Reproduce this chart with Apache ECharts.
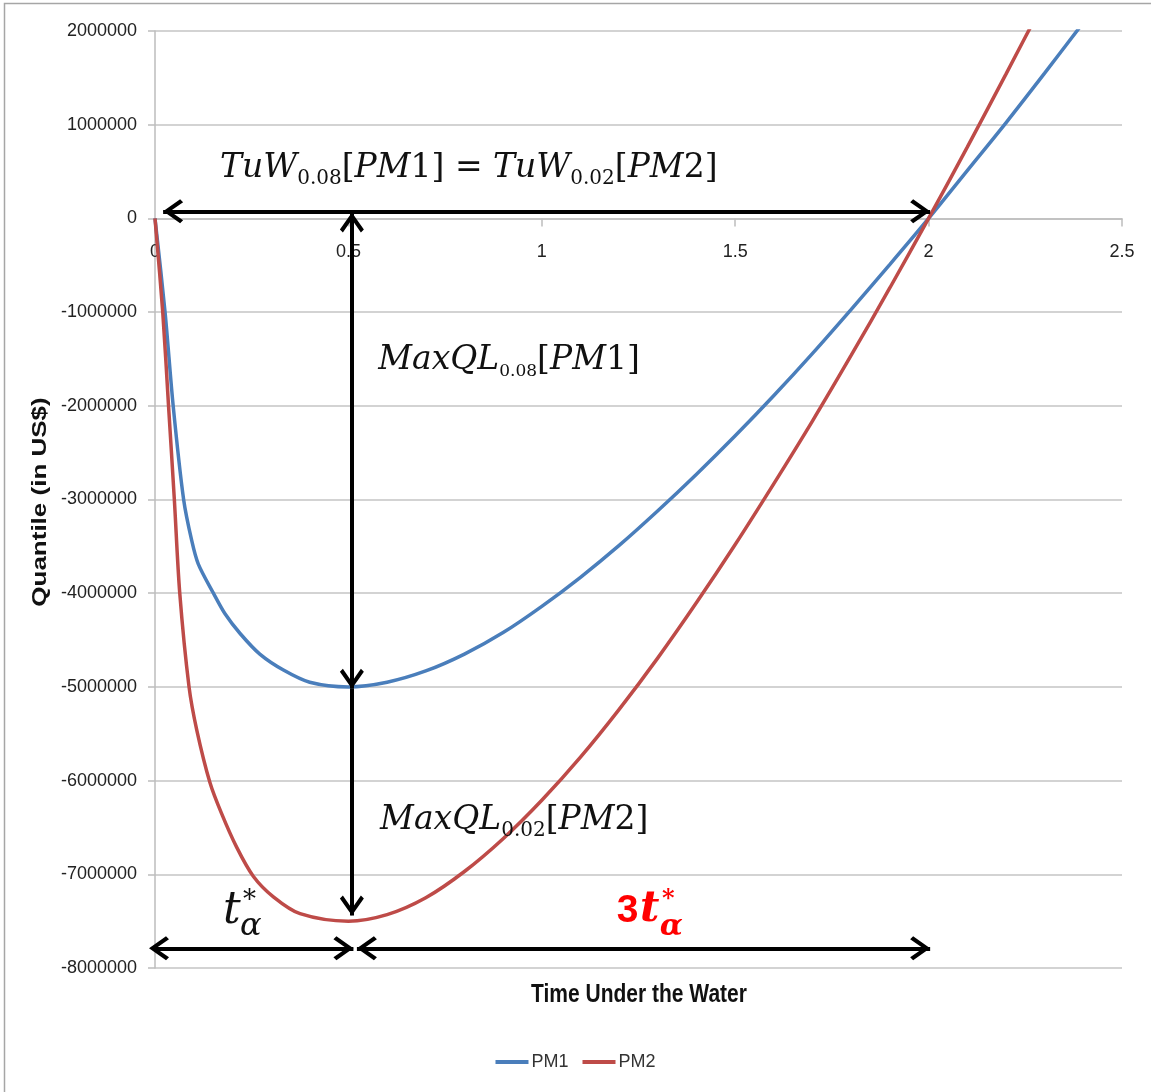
<!DOCTYPE html>
<html>
<head>
<meta charset="utf-8">
<title>Time Under the Water</title>
<script src="https://cdn.jsdelivr.net/npm/echarts@6/dist/echarts.min.js"></script>
<style>
  html, body { margin: 0; padding: 0; background: #fff; }
  #chart { width: 1151px; height: 1092px; }
</style>
</head>
<body>
<div id="chart"></div>
<script>
// values (denser where the curves bend)
var pm1Time = [0, 0.026, 0.047, 0.074, 0.095, 0.112, 0.151, 0.181, 0.22, 0.271, 0.332,
               0.4, 0.5, 0.6, 0.7, 0.8, 0.9, 1.0, 1.1, 1.2, 1.3, 1.4, 1.5, 1.6, 1.7,
               1.8, 1.9, 2.0, 2.1, 2.2, 2.3, 2.4];
var pm1Quantile = [0, -1000000, -2000000, -3000000, -3440000, -3690000, -4000000,
                   -4220000, -4430000, -4650000, -4820000, -4950000, -5000000,
                   -4950000, -4830000, -4650000, -4420000, -4140000, -3830000,
                   -3490000, -3120000, -2730000, -2320000, -1890000, -1440000,
                   -970000, -490000, 0, 510000, 1020000, 1550000, 2090000];
var pm2Time = [0, 0.02, 0.035, 0.05, 0.064, 0.088, 0.108, 0.142, 0.172, 0.211, 0.254,
               0.306, 0.375, 0.5, 0.6, 0.7, 0.8, 0.9, 1.0, 1.1, 1.2, 1.3, 1.4, 1.5,
               1.6, 1.7, 1.8, 1.9, 2.0, 2.1, 2.2, 2.3];
var pm2Quantile = [0, -1000000, -2000000, -3000000, -4000000, -5000000, -5460000,
                   -6020000, -6350000, -6710000, -7020000, -7240000, -7420000,
                   -7500000, -7430000, -7250000, -6970000, -6620000, -6210000,
                   -5750000, -5240000, -4690000, -4100000, -3480000, -2830000,
                   -2160000, -1460000, -740000, 0, 760000, 1540000, 2330000];

var seriesNames = ['PM1', 'PM2'];
var xMin = 0, xMax = 2.5, xStep = 0.5;
var yMin = -8000000, yMax = 2000000, yStep = 1000000;

// annotation arrows in data units (tip to tip); overhang = px the start head pokes past the axis
var arrowSpans = [
  { from: [0.021, 75000], to: [2.004, 75000], startHead: true },
  { from: [0.509, 64000], to: [0.509, -5020000], startHead: true },
  { from: [0.509, -5020000], to: [0.509, -7440000], startHead: false },
  { from: [0, -7790000], to: [0.513, -7790000], startHead: true, overhang: 6 },
  { from: [0.522, -7790000], to: [2.004, -7790000], startHead: true }
];

// annotation texts: anchor is the left-middle of the text box, in data units
var textNotes = [
  { at: [0.168, 515000], text: '{it|TuW}{sub|0.08}{up|[}{it|PM}{up|1] = }{it|TuW}{sub|0.02}{up|[}{it|PM}{up|2]}' },
  { at: [0.577, -1530000], text: '{it|MaxQL}{subS|0.08}{up|[}{it|PM}{up|1]}' },
  { at: [0.582, -6450000], text: '{it|MaxQL}{sub|0.02}{up|[}{it|PM}{up|2]}' },
  { at: [0.176, -7400000], text: '{bigT|t}' },
  { at: [0.2275, -7290000], text: '{star|*}' },
  { at: [0.22, -7560000], text: '{alpha|α}' },
  { at: [1.194, -7390000], text: '{three|3}' },
  { at: [1.254, -7380000], text: '{redT|t}' },
  { at: [1.311, -7270000], text: '{redStar|*}' },
  { at: [1.305, -7560000], text: '{redAlpha|α}' }
];

var mathFont = 'DejaVu Serif';
var richStyles = {
  it: { fontFamily: mathFont, fontStyle: 'italic', fontSize: 33, verticalAlign: 'top', color: '#111' },
  up: { fontFamily: mathFont, fontSize: 33, verticalAlign: 'top', color: '#111' },
  sub: { fontFamily: mathFont, fontSize: 20, verticalAlign: 'top', padding: [17, 0, 0, 0], color: '#111' },
  subS: { fontFamily: mathFont, fontSize: 17, verticalAlign: 'top', padding: [19, 0, 0, 0], color: '#111' },
  bigT: { fontFamily: mathFont, fontStyle: 'italic', fontSize: 44, color: '#111' },
  star: { fontFamily: mathFont, fontSize: 26, color: '#111' },
  alpha: { fontFamily: mathFont, fontStyle: 'italic', fontSize: 32, color: '#111' },
  three: { fontFamily: 'Liberation Sans', fontWeight: 'bold', fontSize: 39, color: '#ff0000' },
  redT: { fontFamily: mathFont, fontStyle: 'italic', fontWeight: 'bold', fontSize: 42, color: '#ff0000' },
  redStar: { fontFamily: mathFont, fontWeight: 'bold', fontSize: 24, color: '#ff0000' },
  redAlpha: { fontFamily: mathFont, fontStyle: 'italic', fontWeight: 'bold', fontSize: 30, color: '#ff0000' }
};

// open chevron head, tip at the top
var chevron = 'path://M12,0 L24,17 L21,20 L12,7 L3,20 L0,17 Z';
var headSize = [24, 20];

var gridBox = { left: 155, right: 29, top: 31, bottom: 124 };
var plotHeight = 1092 - gridBox.top - gridBox.bottom;
// x axis sits on y = 0, labels below it
var xAxisOffset = -plotHeight * yMax / (yMax - yMin);

function pairs(xs, ys) {
  return ys.map(function (y, i) { return [xs[i], y]; });
}

function endPoint(coord, withHead, overhang) {
  return {
    coord: coord,
    symbol: withHead ? chevron : 'none',
    symbolSize: headSize,
    symbolOffset: [0, headSize[1] / 2 - (overhang || 0)]
  };
}

var chart = echarts.init(document.getElementById('chart'));

chart.setOption({
  backgroundColor: '#ffffff',
  animation: false,
  textStyle: { fontFamily: 'Liberation Sans' },
  grid: gridBox,
  legend: {
    data: seriesNames,
    top: 1048,
    left: 'center',
    icon: 'rect',
    itemWidth: 33,
    itemHeight: 4,
    itemGap: 14,
    textStyle: { fontSize: 18, color: '#333', padding: [0, 0, 0, -2] }
  },
  xAxis: {
    type: 'value',
    position: 'top',
    offset: xAxisOffset,
    min: xMin,
    max: xMax,
    interval: xStep,
    axisLine: { onZero: false, lineStyle: { color: '#bdbdbd', width: 1.5 } },
    axisTick: { show: true, inside: true, length: 8, lineStyle: { color: '#bdbdbd', width: 1.5 } },
    axisLabel: { inside: true, color: '#222', fontSize: 18, margin: 25, formatter: function (v) { return String(v); } },
    splitLine: { show: false }
  },
  yAxis: {
    type: 'value',
    min: yMin,
    max: yMax,
    interval: yStep,
    axisLine: { show: true, lineStyle: { color: '#bdbdbd', width: 1.5 } },
    axisTick: { show: true, length: 7, lineStyle: { color: '#bdbdbd', width: 1.5 } },
    axisLabel: { color: '#222', fontSize: 18, margin: 18, formatter: function (v) { return String(v); } },
    splitLine: { lineStyle: { color: '#c4c4c4', width: 1.5 } }
  },
  graphic: [
    {
      type: 'rect',
      shape: { x: 4.5, y: 3.5, width: 1180, height: 1110 },
      style: { fill: 'none', stroke: '#a6a6a6', lineWidth: 1.5 },
      silent: true
    },
    {
      type: 'text',
      x: 639,
      y: 982,
      scaleY: 1.25,
      style: { text: 'Time Under the Water', font: 'bold 21px "Liberation Sans"', fill: '#111', textAlign: 'center', textVerticalAlign: 'top' },
      silent: true
    },
    {
      type: 'text',
      x: 40,
      y: 502,
      rotation: Math.PI / 2,
      scaleX: 1.3,
      style: { text: 'Quantile (in US$)', font: 'bold 20px "Liberation Sans"', fill: '#111', textAlign: 'center', textVerticalAlign: 'middle' },
      silent: true
    }
  ],
  series: [
    {
      name: seriesNames[0],
      type: 'line',
      data: pairs(pm1Time, pm1Quantile),
      smooth: 0.3,
      symbol: 'none',
      lineStyle: { color: '#4A7EBB', width: 3.5 },
      itemStyle: { color: '#4A7EBB' },
      emphasis: { disabled: true }
    },
    {
      name: seriesNames[1],
      type: 'line',
      data: pairs(pm2Time, pm2Quantile),
      smooth: 0.3,
      symbol: 'none',
      lineStyle: { color: '#BE4B48', width: 3.5 },
      itemStyle: { color: '#BE4B48' },
      emphasis: { disabled: true }
    },
    {
      name: 'annotations',
      type: 'line',
      data: [],
      clip: false,
      silent: true,
      markLine: {
        silent: true,
        animation: false,
        label: { show: false },
        emphasis: { disabled: true },
        lineStyle: { color: '#000', width: 4, type: 'solid' },
        data: arrowSpans.map(function (a) {
          return [endPoint(a.from, a.startHead, a.overhang), endPoint(a.to, true)];
        })
      },
      markPoint: {
        silent: true,
        animation: false,
        symbol: 'circle',
        symbolSize: 0,
        data: textNotes.map(function (n) {
          return {
            coord: n.at,
            label: {
              show: true,
              position: 'right',
              distance: 0,
              formatter: n.text,
              rich: richStyles
            }
          };
        })
      }
    }
  ]
});
</script>
</body>
</html>
